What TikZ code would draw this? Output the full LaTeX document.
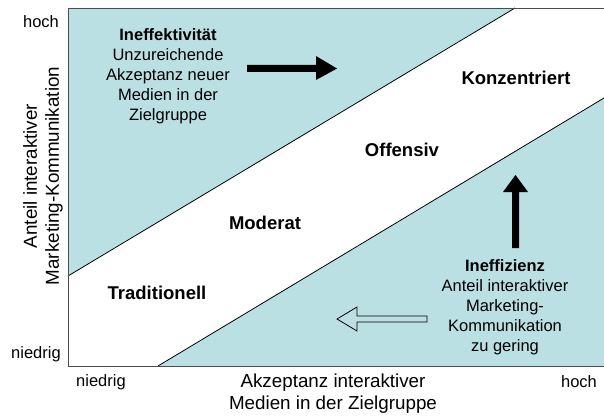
\documentclass[tikz,border=0pt]{standalone}
\usepackage{fontspec}
\setmainfont{Liberation Sans}
\definecolor{feld}{RGB}{187,224,228}
\tikzset{
  region/.style={font=\fontsize{18.5}{22}\selectfont\bfseries},
  info/.style={align=center,font=\fontsize{16.5}{20}\selectfont},
  skala/.style={font=\fontsize{16.5}{20}\selectfont},
  achse/.style={align=center,font=\fontsize{18.8}{22}\selectfont},
  rahmen/.style={draw=black!70,line width=0.9pt},
  grenze/.style={line width=0.8pt}
}
\begin{document}
\begin{tikzpicture}[x=1pt,y=-1pt]
\useasboundingbox (0,0) rectangle (604,417);
% Felder
\fill[feld] (68,8) -- (515,8) -- (68,276) -- cycle;
\fill[feld] (158,366) -- (604,98) -- (604,366) -- cycle;
\draw[grenze] (68,276) -- (515,8);
\draw[grenze] (158,366) -- (604,98);
\draw[rahmen] (604,8) -- (68,8) -- (68,366) -- (604,366);
% Achsen
\node[skala] (yhoch) at (41,22) {hoch};
\node[skala] (yniedrig) at (36,354) {niedrig};
\node[skala] (xniedrig) at (101,382) {niedrig};
\node[skala] (xhoch) at (579,382) {hoch};
\node[achse,rotate=90] (yachse) at (43,176) {Anteil interaktiver\\Marketing-Kommunikation};
\node[achse] (xachse) at (333,394) {Akzeptanz interaktiver\\Medien in der Zielgruppe};
% Bereiche
\node[region] (konz) at (516,78) {Konzentriert};
\node[region] (off) at (402,150) {Offensiv};
\node[region] (mod) at (265,223) {Moderat};
\node[region] (trad) at (157,293) {Traditionell};
\node[info] (ineffekt) at (168,76) {\textbf{Ineffektivität}\\Unzureichende\\Akzeptanz neuer\\Medien in der\\Zielgruppe};
\node[info] (ineffiz) at (505,307) {\textbf{Ineffizienz}\\Anteil interaktiver\\Marketing-\\Kommunikation\\zu gering};
% Pfeile
\fill (247,65) -- (316,65) -- (316,56) -- (337,68.5) -- (316,80) -- (316,72) -- (247,72) -- cycle;
\fill (512,248) -- (512,192) -- (503,192) -- (515.5,175) -- (528,192) -- (519,192) -- (519,248) -- cycle;
\draw[grenze,fill=feld] (427,316) -- (357,316) -- (357,307) -- (337,319) -- (357,331) -- (357,322) -- (427,322) -- cycle;
\end{tikzpicture}
\end{document}
